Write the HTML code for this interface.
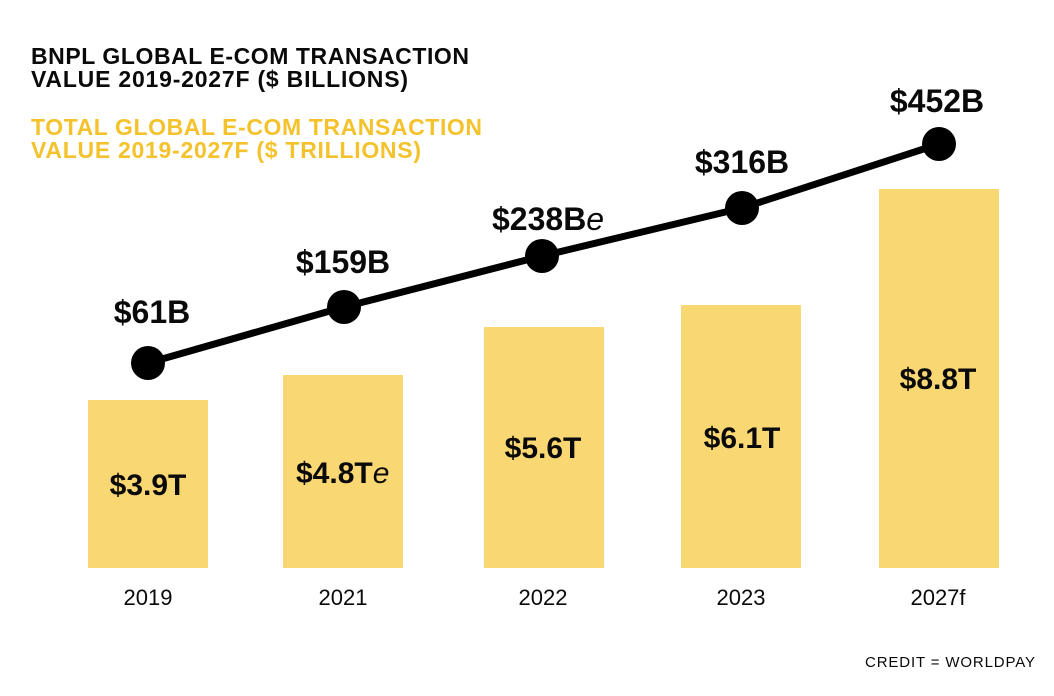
<!DOCTYPE html>
<html>
<head>
<meta charset="utf-8">
<style>
  html, body { margin: 0; padding: 0; background: #ffffff; }
  body { width: 1054px; height: 696px; overflow: hidden; }
  svg { display: block; }
  .t { font-family: "Liberation Sans", Arial, sans-serif; }
</style>
</head>
<body>
<svg width="1054" height="696" viewBox="0 0 1054 696" xmlns="http://www.w3.org/2000/svg">
  <rect x="0" y="0" width="1054" height="696" fill="#ffffff"/>

  <!-- Titles -->
  <g class="t" font-weight="bold" font-size="23">
    <text x="31" y="64" fill="#0a0a0a" textLength="438" lengthAdjust="spacing">BNPL GLOBAL E-COM TRANSACTION</text>
    <text x="31" y="87" fill="#0a0a0a" textLength="377" lengthAdjust="spacing">VALUE 2019-2027F ($ BILLIONS)</text>
    <text x="31" y="135" fill="#F4C22C" textLength="451" lengthAdjust="spacing">TOTAL GLOBAL E-COM TRANSACTION</text>
    <text x="31" y="158" fill="#F4C22C" textLength="390" lengthAdjust="spacing">VALUE 2019-2027F ($ TRILLIONS)</text>
  </g>

  <!-- Bars -->
  <g fill="#F9D773">
    <rect x="88" y="400" width="120" height="168"/>
    <rect x="283" y="375" width="120" height="193"/>
    <rect x="484" y="327" width="120" height="241"/>
    <rect x="681" y="305" width="120" height="263"/>
    <rect x="879" y="189" width="120" height="379"/>
  </g>

  <!-- Bar value labels -->
  <g class="t" font-weight="bold" font-size="30" fill="#0a0a0a" text-anchor="middle">
    <text x="148" y="495">$3.9T</text>
    <text x="543" y="458">$5.6T</text>
    <text x="742" y="448">$6.1T</text>
    <text x="938" y="389">$8.8T</text>
  </g>
  <text class="t" x="296" y="483" font-size="30" fill="#0a0a0a"><tspan font-weight="bold">$4.8T</tspan><tspan font-style="italic" font-weight="normal">e</tspan></text>

  <!-- Line -->
  <polyline points="148,363 344,307 542,256 742,208 939,144" fill="none" stroke="#000" stroke-width="7" stroke-linejoin="round"/>
  <g fill="#000">
    <circle cx="148" cy="363" r="17"/>
    <circle cx="344" cy="307" r="17"/>
    <circle cx="542" cy="256" r="17"/>
    <circle cx="742" cy="208" r="17"/>
    <circle cx="939" cy="144" r="17"/>
  </g>

  <!-- Line value labels -->
  <g class="t" font-weight="bold" font-size="32" fill="#0a0a0a" text-anchor="middle">
    <text x="152" y="323">$61B</text>
    <text x="343" y="273">$159B</text>
    <text x="742" y="173">$316B</text>
    <text x="937" y="112">$452B</text>
  </g>
  <text class="t" x="492" y="230" font-size="32" fill="#0a0a0a"><tspan font-weight="bold">$238B</tspan><tspan font-style="italic" font-weight="normal">e</tspan></text>

  <!-- Year labels -->
  <g class="t" font-size="22" fill="#0a0a0a" text-anchor="middle">
    <text x="148" y="605">2019</text>
    <text x="343" y="605">2021</text>
    <text x="543" y="605">2022</text>
    <text x="741" y="605">2023</text>
    <text x="938" y="605">2027f</text>
  </g>

  <!-- Credit -->
  <text class="t" x="865" y="667" font-size="15" fill="#0a0a0a" textLength="170" lengthAdjust="spacing">CREDIT = WORLDPAY</text>
</svg>
</body>
</html>
